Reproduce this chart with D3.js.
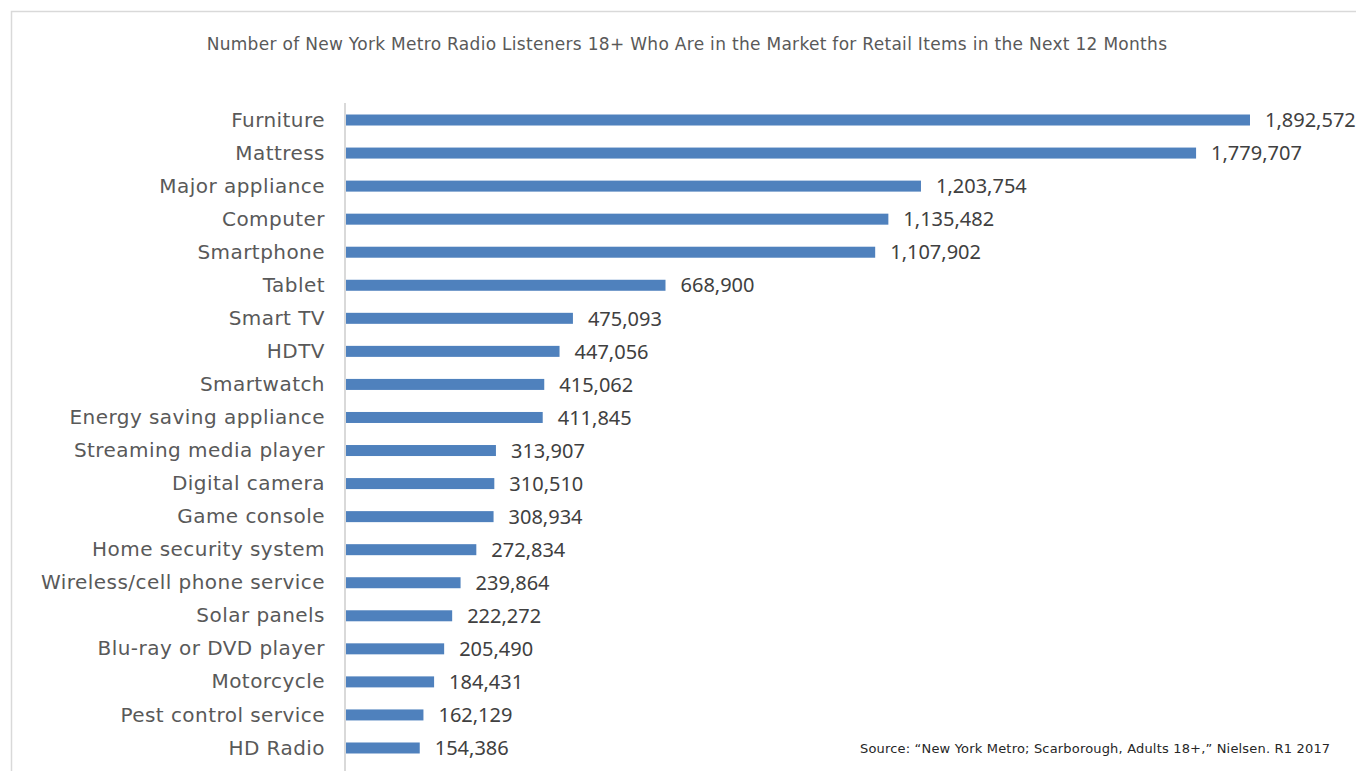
<!DOCTYPE html>
<html>
<head>
<meta charset="utf-8">
<script src="https://cdn.jsdelivr.net/npm/d3@7"></script>
<style>
  html, body { margin: 0; padding: 0; background: #fff; }
  svg { display: block; }
</style>
</head>
<body>
<svg id="chart" width="1356" height="771"></svg>
<script>
// Retail items and the number of listeners in the market for each
const categories = [
  "Furniture", "Mattress", "Major appliance", "Computer", "Smartphone",
  "Tablet", "Smart TV", "HDTV", "Smartwatch", "Energy saving appliance",
  "Streaming media player", "Digital camera", "Game console",
  "Home security system", "Wireless/cell phone service", "Solar panels",
  "Blu-ray or DVD player", "Motorcycle", "Pest control service", "HD Radio"
];
const listeners = [
  1892572, 1779707, 1203754, 1135482, 1107902,
  668900, 475093, 447056, 415062, 411845,
  313907, 310510, 308934, 272834, 239864,
  222272, 205490, 184431, 162129, 154386
];
const titleText = "Number of New York Metro Radio Listeners 18+ Who Are in the Market for Retail Items in the Next 12 Months";
const sourceText = "Source: \u201cNew York Metro; Scarborough, Adults 18+,\u201d Nielsen. R1 2017";

const textFont = "'Century Gothic', 'DejaVu Sans', sans-serif";
const numFont = "'Century Gothic', 'Noto Sans', sans-serif";
const svg = d3.select("#chart");

// Outer frame of the chart area
svg.append("rect")
  .attr("x", 11.5).attr("y", 11.5)
  .attr("width", 1360).attr("height", 800)
  .attr("fill", "none").attr("stroke", "#d9d9d9").attr("stroke-width", 1.5);

// Title
svg.append("text")
  .attr("x", 687).attr("y", 50)
  .attr("text-anchor", "middle")
  .attr("font-family", textFont).attr("font-size", 17)
  .attr("letter-spacing", 0.3)
  .attr("fill", "#595959")
  .text(titleText);

// Scales
const x = d3.scaleLinear().domain([0, 2000000]).range([346, 1301.3]);
const y = d3.scaleBand().domain(categories).range([103.5, 764.5]).paddingInner(0.667).paddingOuter(0.333);

// Category axis line
svg.append("line")
  .attr("x1", 345).attr("x2", 345)
  .attr("y1", 103).attr("y2", 771)
  .attr("stroke", "#d9d9d9").attr("stroke-width", 2);

// Bars
svg.append("g").selectAll("rect")
  .data(categories)
  .join("rect")
  .attr("x", x(0))
  .attr("y", d => y(d))
  .attr("width", (d, i) => x(listeners[i]) - x(0))
  .attr("height", y.bandwidth())
  .attr("fill", "#4f81bd");

// Category labels
svg.append("g").selectAll("text")
  .data(categories)
  .join("text")
  .attr("x", 325)
  .attr("y", d => y(d) + y.bandwidth() / 2)
  .attr("dy", "0.33em")
  .attr("text-anchor", "end")
  .attr("font-family", textFont).attr("font-size", 20)
  .attr("letter-spacing", 0.45)
  .attr("fill", "#595959")
  .text(d => d);

// Value labels
const fmt = d3.format(",");
svg.append("g").selectAll("text")
  .data(categories)
  .join("text")
  .attr("x", (d, i) => x(listeners[i]) + 15)
  .attr("y", d => y(d) + y.bandwidth() / 2)
  .attr("dy", "0.36em")
  .attr("font-family", numFont).attr("font-size", 20)
  .attr("fill", "#404040")
  .text((d, i) => fmt(listeners[i]));

// Source note
svg.append("text")
  .attr("x", 860).attr("y", 753)
  .attr("font-family", textFont).attr("font-size", 13)
  .attr("letter-spacing", 0.18)
  .attr("fill", "#262626")
  .text(sourceText);
</script>
</body>
</html>
